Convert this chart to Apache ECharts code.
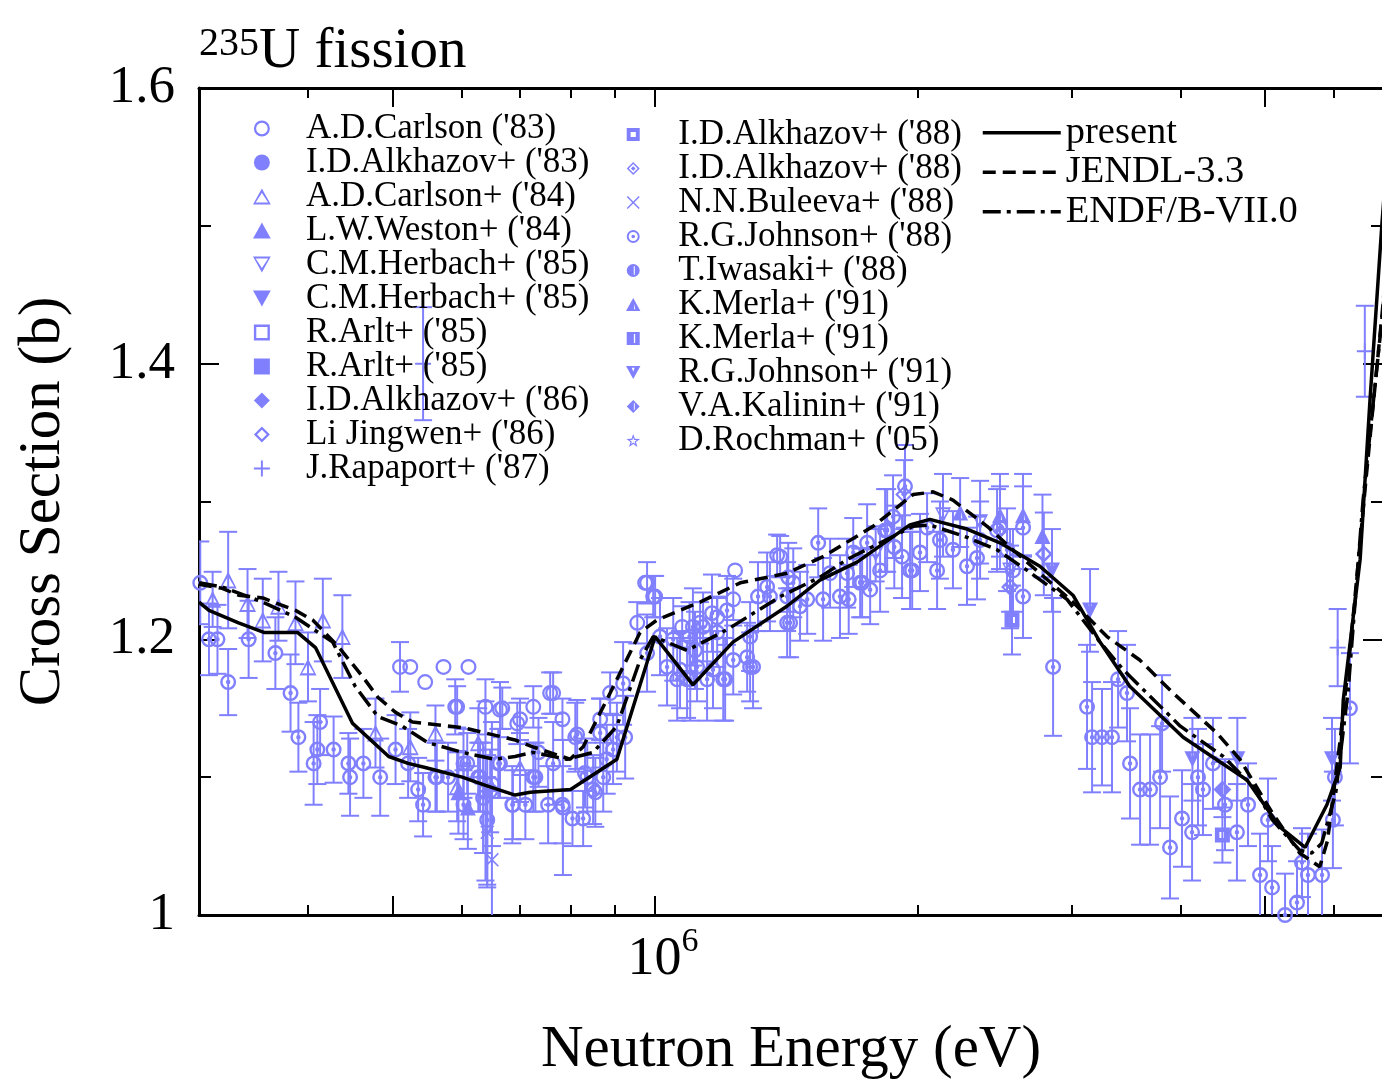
<!DOCTYPE html>
<html>
<head>
<meta charset="utf-8">
<title>235U fission</title>
<script src="https://cdn.jsdelivr.net/npm/echarts@6/dist/echarts.min.js"></script>
<style>
  html, body { margin: 0; padding: 0; background: #fff; }
  #chart { width: 1382px; height: 1080px; }
</style>
</head>
<body>
<div id="chart"></div>
<script>
// measured points: [energy (eV), cross section (b), error (b)]
const carlson83 = [
  [5.10e5, 1.180, 0.018], [5.24e5, 1.180, 0], [5.45e5, 1.169, 0], [5.72e5, 1.180, 0],
  [5.90e5, 1.151, 0.020], [5.93e5, 1.151, 0.015], [6.11e5, 1.180, 0], [6.39e5, 1.151, 0.020],
  [6.64e5, 1.149, 0.020], [6.68e5, 1.150, 0.015], [6.95e5, 1.139, 0.015], [7.00e5, 1.142, 0.015],
  [7.25e5, 1.151, 0.015], [7.58e5, 1.161, 0.015], [7.64e5, 1.161, 0.015], [7.83e5, 1.142, 0.015],
  [8.65e5, 1.142, 0.015], [8.88e5, 1.161, 0.015], [9.54e5, 1.212, 0.015], [9.74e5, 1.241, 0],
  [9.79e5, 1.241, 0.015], [9.95e5, 1.231, 0.015], [1.0e6, 1.231, 0.015], [1.074e6, 1.209, 0.015],
  [1.126e6, 1.212, 0.015], [1.178e6, 1.216, 0.015], [1.229e6, 1.229, 0.015], [1.235e6, 1.250, 0],
  [1.380e6, 1.261, 0.015], [1.391e6, 1.260, 0.015]
];
const alkhazov83 = [];
const carlson84 = [
  [3.11e5, 1.229, 0.020], [3.24e5, 1.243, 0.035], [3.41e5, 1.226, 0.025], [3.55e5, 1.214, 0.030],
  [3.70e5, 1.224, 0.025], [3.87e5, 1.212, 0.030], [4.00e5, 1.180, 0.025], [4.16e5, 1.214, 0.030],
  [4.38e5, 1.202, 0.030], [4.78e5, 1.132, 0.025], [5.24e5, 1.122, 0.025], [5.60e5, 1.132, 0.020],
  [5.93e5, 1.093, 0.025], [6.27e5, 1.125, 0.025], [7.00e5, 1.107, 0.025]
];
const weston84 = [[5.95e5, 1.089, 0.030], [6.10e5, 1.078, 0.030]];
const herbach85a = [[1.79e6, 1.262, 0.020], [2.138e6, 1.290, 0.030], [2.358e6, 1.285, 0.030], [2.552e6, 1.250, 0.030]];
const herbach85b = [];
const arlt85a = [];
const arlt85b = [];
const alkhazov86 = [];
const jingwen86 = [[2.79e6, 1.262, 0.030]];
const rapaport87 = [[5.42e5, 1.400, 0.041], [6.06e6, 1.194, 0.028], [6.51e6, 1.409, 0.033]];
const alkhazov88a = [[2.565e6, 1.214, 0.025], [4.47e6, 1.058, 0.020]];
const alkhazov88b = [[1.93e6, 1.305, 0.025], [2.552e6, 1.238, 0.030]];
const buleeva88 = [[6.42e5, 1.060, 0.040], [6.50e5, 1.040, 0.050]];
const johnson88 = [
  [3.01e5, 1.241, 0.030], [3.08e5, 1.200, 0.026], [3.15e5, 1.200, 0.025], [3.24e5, 1.169, 0.024],
  [3.42e5, 1.200, 0.028], [3.67e5, 1.190, 0.026], [3.82e5, 1.161, 0.028], [3.90e5, 1.129, 0.025],
  [4.06e5, 1.110, 0.030], [4.10e5, 1.120, 0.025], [4.13e5, 1.140, 0.024], [4.28e5, 1.120, 0.024],
  [4.45e5, 1.110, 0.022], [4.47e5, 1.100, 0.028], [4.63e5, 1.110, 0.025], [4.84e5, 1.100, 0.028],
  [5.04e5, 1.120, 0.025], [5.21e5, 1.110, 0.025], [5.35e5, 1.091, 0.023], [5.42e5, 1.080, 0.023],
  [5.60e5, 1.100, 0.025], [5.62e5, 1.100, 0.025], [5.79e5, 1.100, 0.025], [6.03e5, 1.080, 0.025],
  [6.03e5, 1.110, 0.025], [6.09e5, 1.110, 0.022], [6.27e5, 1.100, 0.025], [6.30e5, 1.100, 0.025],
  [6.35e5, 1.085, 0.040], [6.39e5, 1.090, 0.065], [6.42e5, 1.069, 0.047], [6.47e5, 1.090, 0.030],
  [6.50e5, 1.095, 0.045], [6.61e5, 1.110, 0.025], [6.64e5, 1.110, 0.025], [6.86e5, 1.080, 0.028],
  [6.87e5, 1.080, 0.025], [7.10e5, 1.080, 0.025], [7.25e5, 1.100, 0.025], [7.29e5, 1.100, 0.025],
  [7.35e5, 1.118, 0.025], [7.54e5, 1.080, 0.028], [7.64e5, 1.110, 0.030], [7.83e5, 1.080, 0.028],
  [7.84e5, 1.078, 0.049], [8.04e5, 1.070, 0.020], [8.10e5, 1.129, 0.025], [8.14e5, 1.131, 0.025],
  [8.27e5, 1.070, 0.020], [8.31e5, 1.103, 0.025], [8.36e5, 1.100, 0.025], [8.49e5, 1.091, 0.025],
  [8.54e5, 1.089, 0.025], [8.65e5, 1.132, 0.025], [8.72e5, 1.100, 0.025], [8.80e5, 1.113, 0.025],
  [8.95e5, 1.120, 0.025], [9.04e5, 1.129, 0.025], [9.19e5, 1.168, 0.030], [9.24e5, 1.129, 0.030],
  [9.79e5, 1.190, 0.028], [1.013e6, 1.202, 0.028], [1.032e6, 1.180, 0.028], [1.049e6, 1.200, 0.030],
  [1.060e6, 1.171, 0.030], [1.068e6, 1.178, 0.028], [1.088e6, 1.171, 0.028], [1.095e6, 1.202, 0.025],
  [1.097e6, 1.171, 0.030], [1.105e6, 1.209, 0.028], [1.111e6, 1.192, 0.028], [1.117e6, 1.180, 0.025],
  [1.135e6, 1.209, 0.025], [1.147e6, 1.171, 0.030], [1.162e6, 1.219, 0.028], [1.165e6, 1.178, 0.028],
  [1.178e6, 1.205, 0.025], [1.197e6, 1.171, 0.030], [1.203e6, 1.171, 0.030], [1.209e6, 1.221, 0.025],
  [1.229e6, 1.185, 0.025], [1.275e6, 1.187, 0.025], [1.285e6, 1.180, 0.025], [1.285e6, 1.202, 0.025],
  [1.295e6, 1.180, 0.030], [1.312e6, 1.231, 0.025], [1.344e6, 1.238, 0.025], [1.354e6, 1.231, 0.025],
  [1.417e6, 1.212, 0.025], [1.417e6, 1.231, 0.025], [1.421e6, 1.245, 0.025], [1.428e6, 1.212, 0.025],
  [1.440e6, 1.241, 0.025], [1.466e6, 1.224, 0.025], [1.494e6, 1.229, 0.025], [1.538e6, 1.270, 0.025],
  [1.558e6, 1.229, 0.030], [1.587e6, 1.248, 0.025], [1.629e6, 1.231, 0.030], [1.660e6, 1.248, 0.025],
  [1.667e6, 1.229, 0.025], [1.687e6, 1.263, 0.025], [1.718e6, 1.241, 0.025], [1.727e6, 1.241, 0.025],
  [1.750e6, 1.270, 0.028], [1.764e6, 1.236, 0.025], [1.811e6, 1.250, 0.030], [1.835e6, 1.279, 0.030],
  [1.845e6, 1.279, 0.030], [1.874e6, 1.289, 0.030], [1.880e6, 1.267, 0.030], [1.919e6, 1.260, 0.030],
  [1.934e6, 1.311, 0.030], [1.960e6, 1.250, 0.028], [1.971e6, 1.250, 0.028], [2.012e6, 1.263, 0.028],
  [2.050e6, 1.281, 0.025], [2.105e6, 1.250, 0.028], [2.121e6, 1.272, 0.028], [2.195e6, 1.265, 0.028],
  [2.278e6, 1.253, 0.028], [2.339e6, 1.259, 0.030], [2.358e6, 1.272, 0.028], [2.466e6, 1.279, 0.030],
  [2.485e6, 1.281, 0.030], [2.532e6, 1.265, 0.030], [2.572e6, 1.250, 0.030], [2.641e6, 1.281, 0.030],
  [2.641e6, 1.231, 0.030], [2.859e6, 1.180, 0.050], [3.127e6, 1.151, 0.045], [3.169e6, 1.129, 0.040],
  [3.253e6, 1.129, 0.035], [3.340e6, 1.129, 0.040], [3.394e6, 1.171, 0.035], [3.475e6, 1.161, 0.035],
  [3.503e6, 1.110, 0.040], [3.597e6, 1.091, 0.040], [3.693e6, 1.091, 0.040], [3.792e6, 1.100, 0.037],
  [3.812e6, 1.139, 0.035], [3.893e6, 1.049, 0.037], [4.018e6, 1.070, 0.035], [4.126e6, 1.060, 0.035],
  [4.191e6, 1.100, 0.035], [4.247e6, 1.091, 0.033], [4.360e6, 1.110, 0.033], [4.501e6, 1.080, 0.033],
  [4.645e6, 1.060, 0.035], [4.783e6, 1.080, 0.030], [4.937e6, 1.029, 0.030], [5.042e6, 1.069, 0.030],
  [5.096e6, 1.020, 0.030], [5.274e6, 1.000, 0.030], [5.443e6, 1.009, 0.030], [5.515e6, 1.038, 0.025],
  [5.603e6, 1.029, 0.030], [5.815e6, 1.029, 0.033], [5.984e6, 1.069, 0.035], [6.016e6, 1.100, 0.035],
  [6.259e6, 1.150, 0.040]
];
const iwasaki88 = [];
const merla91a = [
  [2.237e6, 1.292, 0.025], [2.485e6, 1.290, 0.030], [2.641e6, 1.290, 0.030], [2.78e6, 1.275, 0.030]
];
const merla91b = [];
const johnson91 = [
  [2.851e6, 1.250, 0.030], [3.152e6, 1.221, 0.030], [4.13e6, 1.113, 0.030],
  [4.65e6, 1.113, 0.030], [5.97e6, 1.113, 0.030]
];
const kalinin91 = [[4.47e6, 1.091, 0.020]];
const rochman05 = [];

// evaluations: [energy (eV), cross section (b)]
const presentCurve = [
  [3.0e5, 1.227], [3.08e5, 1.221], [3.33e5, 1.212], [3.56e5, 1.205], [3.89e5, 1.205],
  [4.08e5, 1.194], [4.50e5, 1.139], [4.95e5, 1.115], [5.21e5, 1.110], [5.45e5, 1.107],
  [6.01e5, 1.100], [6.39e5, 1.094], [6.91e5, 1.087], [7.19e5, 1.089], [8.0e5, 1.091],
  [9.04e5, 1.113], [1.0e6, 1.202], [1.105e6, 1.167], [1.228e6, 1.198], [1.416e6, 1.224],
  [1.545e6, 1.243], [1.704e6, 1.256], [1.959e6, 1.283], [2.065e6, 1.287], [2.278e6, 1.280],
  [2.485e6, 1.270], [2.761e6, 1.253], [3.013e6, 1.232], [3.236e6, 1.198], [3.50e6, 1.166],
  [4.03e6, 1.129], [4.77e6, 1.098], [5.2e6, 1.064], [5.56e6, 1.049], [5.89e6, 1.080],
  [6.1e6, 1.107], [6.15e6, 1.156], [6.43e6, 1.258], [6.6e6, 1.374], [6.81e6, 1.501], [7.0e6, 1.600]
];
const jendlCurve = [
  [3.0e5, 1.240], [3.19e5, 1.237], [3.33e5, 1.232], [3.55e5, 1.230], [3.87e5, 1.221],
  [4.05e5, 1.214], [4.33e5, 1.195], [4.62e5, 1.173], [4.81e5, 1.158], [5.04e5, 1.147],
  [5.27e5, 1.140], [6.01e5, 1.136], [6.91e5, 1.127], [7.24e5, 1.122], [7.99e5, 1.113],
  [8.27e5, 1.122], [8.88e5, 1.161], [9.61e5, 1.205], [1.005e6, 1.214], [1.126e6, 1.227],
  [1.252e6, 1.241], [1.417e6, 1.248], [1.558e6, 1.260], [1.778e6, 1.282], [1.976e6, 1.305],
  [2.083e6, 1.307], [2.195e6, 1.301], [2.402e6, 1.282], [2.57e6, 1.265], [2.761e6, 1.248],
  [3.013e6, 1.227], [3.296e6, 1.202], [3.594e6, 1.185], [3.925e6, 1.161], [4.405e6, 1.132],
  [4.68e6, 1.113], [5.1e6, 1.074], [5.48e6, 1.045], [5.78e6, 1.035], [5.9e6, 1.054],
  [6.1e6, 1.127], [6.26e6, 1.192], [6.53e6, 1.316], [6.82e6, 1.439], [7.0e6, 1.52]
];
const endfCurve = [
  [3.0e5, 1.241], [3.19e5, 1.238], [3.55e5, 1.227], [3.87e5, 1.216], [4.27e5, 1.198],
  [4.53e5, 1.166], [4.81e5, 1.144], [5.13e5, 1.137], [5.49e5, 1.125], [6.01e5, 1.118],
  [6.55e5, 1.113], [6.91e5, 1.115], [7.24e5, 1.118], [7.92e5, 1.113], [8.49e5, 1.118],
  [9.04e5, 1.137], [9.61e5, 1.185], [9.95e5, 1.202], [1.088e6, 1.192], [1.209e6, 1.207],
  [1.391e6, 1.231], [1.545e6, 1.245], [1.66e6, 1.258], [1.976e6, 1.282], [2.065e6, 1.283],
  [2.278e6, 1.274], [2.465e6, 1.265], [2.67e6, 1.250], [2.966e6, 1.229], [3.236e6, 1.198],
  [3.44e6, 1.178], [4.0e6, 1.137], [4.48e6, 1.115], [4.85e6, 1.093], [5.1e6, 1.069],
  [5.48e6, 1.047], [5.66e6, 1.045], [5.81e6, 1.052], [6.03e6, 1.089], [6.23e6, 1.163],
  [6.48e6, 1.301], [6.81e6, 1.432], [7.0e6, 1.51]
];

// axis ticks (eV)
const xMinorTicks = [4e5, 6e5, 7e5, 8e5, 9e5, 2e6, 3e6, 4e6, 6e6];
const xMajorTicks = [5e5, 1e6, 5e6];
const xLabelTicks = [1e6];

const serif = 'Liberation Serif';
const markColor = '#8080ff';
const xMin = 3e5, xMax = 6.83e6;

const symbols = {
  ringDot: 'path://M50 0A50 50 0 1 1 50 100A50 50 0 1 1 50 0ZM50 15A35 35 0 1 0 50 85A35 35 0 1 0 50 15ZM50 36A14 14 0 1 1 50 64A14 14 0 1 1 50 36Z',
  ring: 'path://M50 0A50 50 0 1 1 50 100A50 50 0 1 1 50 0ZM50 14A36 36 0 1 0 50 86A36 36 0 1 0 50 14Z',
  openTri: 'path://M50 0L100 90L0 90ZM50 26L15 79L85 79Z',
  tri: 'path://M50 0L100 90L0 90Z',
  openDown: 'path://M0 0L100 0L50 90ZM15 11L50 64L85 11Z',
  down: 'path://M0 0L100 0L50 90Z',
  openSquare: 'path://M0 0L100 0L100 100L0 100ZM15 15L15 85L85 85L85 15Z',
  square: 'path://M0 0L100 0L100 100L0 100Z',
  diamond: 'path://M50 0L100 50L50 100L0 50Z',
  openDiamond: 'path://M50 0L100 50L50 100L0 50ZM50 20L20 50L50 80L80 50Z',
  plus: 'path://M44 0L56 0L56 44L100 44L100 56L56 56L56 100L44 100L44 56L0 56L0 44L44 44Z',
  cross: 'path://M0 8L8 0L50 42L92 0L100 8L58 50L100 92L92 100L50 58L8 100L0 92L42 50Z',
  squareHole: 'path://M0 0L100 0L100 100L0 100ZM30 30L30 70L70 70L70 30Z',
  diamondHole: 'path://M50 0L100 50L50 100L0 50ZM50 16L16 50L50 84L84 50ZM50 32L68 50L50 68L32 50Z',
  halfDisc: 'path://M50 0A50 50 0 1 1 50 100A50 50 0 1 1 50 0ZM54 18L54 82L62 82L62 18Z',
  triSlit: 'path://M50 0L100 90L0 90ZM56 40L56 78L64 78Z',
  squareSlit: 'path://M0 0L100 0L100 100L0 100ZM55 15L55 85L65 85L65 15Z',
  downSlit: 'path://M0 0L100 0L50 90ZM40 12L50 40L60 12Z',
  diamondSlit: 'path://M50 0L100 50L50 100L0 50ZM55 22L55 78L62 71L62 29Z',
  star: 'path://M50 0L61.8 33.8L97.6 34.5L69 56.2L79.4 90.5L50 70L20.6 90.5L31 56.2L2.4 34.5L38.2 33.8ZM50 25L44.1 41.9L26.2 42.3L40.5 53.1L35.3 70.2L50 60L64.7 70.2L59.5 53.1L73.8 42.3L55.9 41.9Z'
};

const datasets = [
  ['carlson83', "A.D.Carlson ('83)", carlson83, 'ring', 16],
  ['alkhazov83', "I.D.Alkhazov+ ('83)", alkhazov83, 'circle', 16],
  ['carlson84', "A.D.Carlson+ ('84)", carlson84, 'openTri', 17],
  ['weston84', "L.W.Weston+ ('84)", weston84, 'tri', 16],
  ['herbach85a', "C.M.Herbach+ ('85)", herbach85a, 'openDown', 16],
  ['herbach85b', "C.M.Herbach+ ('85)", herbach85b, 'down', 16],
  ['arlt85a', "R.Arlt+ ('85)", arlt85a, 'openSquare', 15],
  ['arlt85b', "R.Arlt+ ('85)", arlt85b, 'square', 15],
  ['alkhazov86', "I.D.Alkhazov+ ('86)", alkhazov86, 'diamond', 18],
  ['jingwen86', "Li Jingwen+ ('86)", jingwen86, 'openDiamond', 18],
  ['rapaport87', "J.Rapaport+ ('87)", rapaport87, 'plus', 16],
  ['alkhazov88a', "I.D.Alkhazov+ ('88)", alkhazov88a, 'squareHole', 15],
  ['alkhazov88b', "I.D.Alkhazov+ ('88)", alkhazov88b, 'diamondHole', 18],
  ['buleeva88', "N.N.Buleeva+ ('88)", buleeva88, 'cross', 14],
  ['johnson88', "R.G.Johnson+ ('88)", johnson88, 'ringDot', 16],
  ['iwasaki88', "T.Iwasaki+ ('88)", iwasaki88, 'halfDisc', 15],
  ['merla91a', "K.Merla+ ('91)", merla91a, 'triSlit', 16],
  ['merla91b', "K.Merla+ ('91)", merla91b, 'squareSlit', 15],
  ['johnson91', "R.G.Johnson+ ('91)", johnson91, 'downSlit', 16],
  ['kalinin91', "V.A.Kalinin+ ('91)", kalinin91, 'diamondSlit', 18],
  ['rochman05', "D.Rochman+ ('05)", rochman05, 'star', 15]
];

const labels = {};
datasets.forEach(d => { labels[d[0]] = d[1]; });
labels['present'] = 'present';
labels['JENDL-3.3'] = 'JENDL-3.3';
labels['ENDF/B-VII.0'] = 'ENDF/B-VII.0';

const leftKeys = datasets.slice(0, 11).map(d => d[0]);
const rightKeys = datasets.slice(11).map(d => d[0]);

function renderErrorBar(params, api) {
  const e = api.value(0), s = api.value(1), d = api.value(2);
  if (!d) return null;
  const hi = api.coord([e, s + d]);
  const lo = api.coord([e, s - d]);
  const style = { stroke: markColor, lineWidth: 2 };
  return {
    type: 'group',
    children: [
      { type: 'line', shape: { x1: hi[0], y1: hi[1], x2: lo[0], y2: lo[1] }, style },
      { type: 'line', shape: { x1: hi[0] - 9, y1: hi[1], x2: hi[0] + 9, y2: hi[1] }, style },
      { type: 'line', shape: { x1: lo[0] - 9, y1: lo[1], x2: lo[0] + 9, y2: lo[1] }, style }
    ]
  };
}

const allPoints = [].concat(...datasets.map(d => d[2]));

const series = [
  {
    type: 'custom', xAxisIndex: 0, yAxisIndex: 0, renderItem: renderErrorBar,
    data: allPoints, encode: { x: 0, y: 1 }, clip: true, silent: true, z: 1
  }
];
datasets.forEach(d => {
  series.push({
    name: d[0], type: 'scatter', xAxisIndex: 0, yAxisIndex: 0,
    symbol: symbols[d[3]] || d[3], symbolSize: d[4],
    itemStyle: { color: markColor, opacity: 1 },
    data: d[2], clip: true, z: 3
  });
});
const curves = [
  ['present', presentCurve, 'solid'],
  ['JENDL-3.3', jendlCurve, [13, 7]],
  ['ENDF/B-VII.0', endfCurve, [18, 6, 4, 6]]
];
curves.forEach(c => {
  series.push({
    name: c[0], type: 'line', xAxisIndex: 0, yAxisIndex: 0, data: c[1],
    symbol: 'none', clip: true, z: 5,
    itemStyle: { color: '#000' },
    lineStyle: { color: '#000', width: 3.5, type: c[2] }
  });
});

const lg = Math.log10;
const tickLine = { color: '#000', width: 2 };
const legendText = { fontFamily: serif, fontSize: 35, lineHeight: 34, color: '#000' };

const chart = echarts.init(document.getElementById('chart'));
chart.setOption({
  animation: false,
  backgroundColor: '#fff',
  title: {
    text: '{a|235}{b|U fission}',
    left: 199, top: 24, padding: 0,
    textStyle: {
      fontWeight: 'normal',
      rich: {
        a: { fontFamily: serif, fontSize: 40, fontWeight: 'normal', color: '#000', lineHeight: 22, verticalAlign: 'top' },
        b: { fontFamily: serif, fontSize: 57, fontWeight: 'normal', color: '#000', lineHeight: 66, verticalAlign: 'top' }
      }
    }
  },
  legend: [
    {
      data: leftKeys, orient: 'vertical', left: 253, top: 111, padding: 0,
      itemGap: -1, itemWidth: 78, itemHeight: 16, selectedMode: false,
      formatter: n => labels[n], textStyle: legendText
    },
    {
      data: rightKeys, orient: 'vertical', left: 626, top: 117, padding: 0,
      itemGap: -1, itemWidth: 80, itemHeight: 13, selectedMode: false,
      formatter: n => labels[n], textStyle: legendText
    },
    {
      data: ['present', 'JENDL-3.3', 'ENDF/B-VII.0'], orient: 'vertical',
      left: 981, top: 113, padding: 0, itemGap: 0, itemWidth: 78, itemHeight: 16,
      selectedMode: false, formatter: n => labels[n],
      itemStyle: { opacity: 0 },
      lineStyle: { width: 3.5 },
      textStyle: { fontFamily: serif, fontSize: 38.5, lineHeight: 39.5, color: '#000' }
    }
  ],
  grid: { left: 199, top: 88, width: 1184, height: 827, outerBoundsMode: 'none' },
  xAxis: [
    {
      type: 'log', min: xMin, max: xMax, position: 'bottom',
      name: 'Neutron Energy (eV)', nameLocation: 'middle', nameGap: 106,
      nameTextStyle: { fontFamily: serif, fontSize: 59, color: '#000' },
      axisLine: { lineStyle: { color: '#000', width: 3 } },
      axisTick: { show: false }, axisLabel: { show: false },
      splitLine: { show: false }, minorTick: { show: false }
    },
    {
      type: 'value', min: lg(xMin), max: lg(xMax), position: 'bottom',
      axisLine: { show: false }, splitLine: { show: false },
      axisTick: { inside: true, length: 10, lineStyle: tickLine, customValues: xMinorTicks.map(lg) },
      axisLabel: { show: false }
    },
    {
      type: 'value', min: lg(xMin), max: lg(xMax), position: 'bottom',
      axisLine: { show: false }, splitLine: { show: false },
      axisTick: { inside: true, length: 19, lineStyle: tickLine, customValues: xMajorTicks.map(lg) },
      axisLabel: {
        customValues: xLabelTicks.map(lg), margin: 15,
        formatter: v => '{p|}{b|10}{s|' + Math.round(v) + '}',
        rich: {
          b: { fontFamily: serif, fontSize: 54, color: '#000', lineHeight: 60, verticalAlign: 'middle' },
          s: { fontFamily: serif, fontSize: 34, color: '#000', lineHeight: 34, padding: [0, 0, 36, 0], verticalAlign: 'middle' },
          p: { width: 16 }
        }
      }
    },
    {
      type: 'value', min: lg(xMin), max: lg(xMax), position: 'top',
      axisLine: { show: true, lineStyle: { color: '#000', width: 3 } }, splitLine: { show: false },
      axisTick: { inside: true, length: 10, lineStyle: tickLine, customValues: xMinorTicks.map(lg) },
      axisLabel: { show: false }
    },
    {
      type: 'value', min: lg(xMin), max: lg(xMax), position: 'top',
      axisLine: { show: false }, splitLine: { show: false },
      axisTick: { inside: true, length: 19, lineStyle: tickLine, customValues: xMajorTicks.map(lg) },
      axisLabel: { show: false }
    }
  ],
  yAxis: [
    {
      type: 'value', min: 1, max: 1.6, interval: 0.2, position: 'left',
      name: 'Cross Section (b)', nameLocation: 'middle', nameGap: 126,
      nameTextStyle: { fontFamily: serif, fontSize: 59, color: '#000' },
      axisLine: { show: true, lineStyle: { color: '#000', width: 3 } },
      axisTick: { inside: true, length: 20, lineStyle: tickLine },
      minorTick: { show: true, splitNumber: 2, length: 12, lineStyle: tickLine },
      splitLine: { show: false }, minorSplitLine: { show: false },
      axisLabel: {
        margin: 24, fontFamily: serif, fontSize: 53, color: '#000',
        formatter: v => (Math.abs(v - 1) < 1e-9 ? '1' : v.toFixed(1))
      }
    },
    {
      type: 'value', min: 1, max: 1.6, interval: 0.2, position: 'right',
      axisLine: { show: true, lineStyle: { color: '#000', width: 3 } },
      axisTick: { inside: true, length: 20, lineStyle: tickLine },
      minorTick: { show: true, splitNumber: 2, length: 12, lineStyle: tickLine },
      splitLine: { show: false }, axisLabel: { show: false }
    }
  ],
  series: series
});
</script>
</body>
</html>
